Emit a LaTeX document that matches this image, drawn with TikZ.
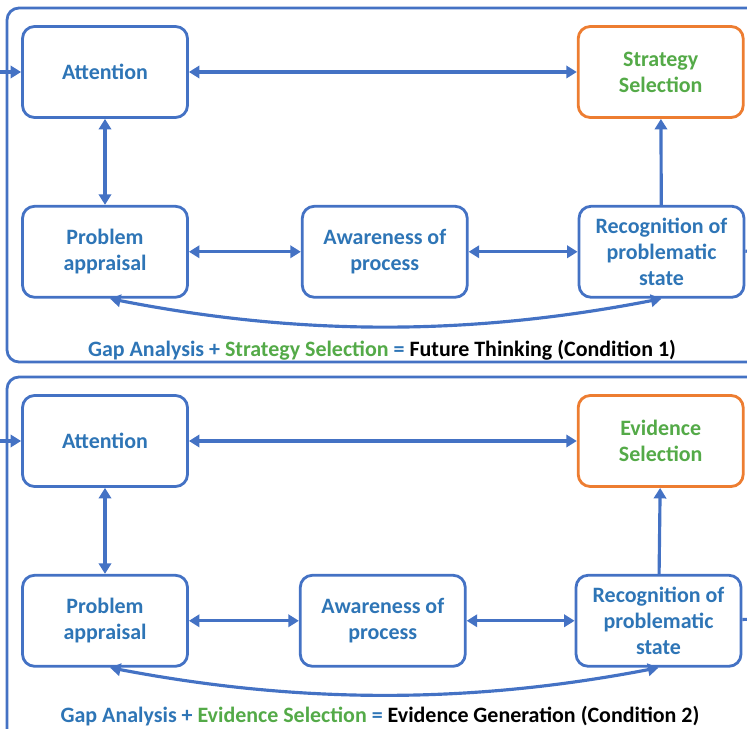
\documentclass[tikz,border=0pt]{standalone}
\usepackage{fontspec}
\setmainfont{Carlito}
\usetikzlibrary{positioning, arrows.meta}

\definecolor{lineblue}{RGB}{68,114,196}
\definecolor{textblue}{RGB}{46,117,182}
\definecolor{boxorange}{RGB}{237,125,49}
\definecolor{textgreen}{RGB}{84,170,72}

\begin{document}
\begin{tikzpicture}[
  x=0.02cm, y=-0.02cm,
  node distance=1.72cm,
  box/.style={rectangle, rounded corners=0.24cm, draw=lineblue, line width=1.6pt,
    minimum width=3.3cm, minimum height=1.82cm, align=center,
    text=textblue, font=\fontsize{12.5}{14.7}\selectfont\bfseries},
  goal/.style={box, draw=boxorange, text=textgreen},
  panel/.style={rounded corners=0.24cm, draw=lineblue, line width=1.6pt},
  arrow/.style={-{Triangle[length=6pt, width=7pt]}, draw=lineblue, line width=1.8pt},
  both/.style={arrow, {Triangle[length=6pt, width=7pt]}-{Triangle[length=6pt, width=7pt]}},
  caption/.style={font=\fontsize{12.5}{14}\selectfont\bfseries}
]
\clip (0,0) rectangle (747,729);

% condition 1
\draw[panel] (7,8) rectangle (770,362);
\node[box] (att1) at (105,72) {Attention};
\node[goal, right=7.76cm of att1] (sel1) {Strategy\\Selection};
\node[box, below=of att1] (prob1) {Problem\\appraisal};
\node[box, right=2.24cm of prob1] (aware1) {Awareness of\\process};
\node[box, right=2.18cm of aware1] (rec1) {Recognition of\\problematic\\state};
\coordinate (in1) at (-5,72);
\coordinate (out1) at (770,251);

\draw[arrow] (in1) -- (att1);
\draw[both] (att1) -- (sel1);
\draw[both] (att1) -- (prob1);
\draw[both] (prob1) -- (aware1);
\draw[both] (aware1) -- (rec1);
\draw[arrow] (rec1) -- (sel1);
\draw[lineblue, line width=1.8pt] (rec1) -- (out1);
\draw[both] ([xshift=0.1cm]prob1.south) .. controls (300,336) and (470,336) .. (rec1.south);

\node[caption] (cap1) at (382,350) {\textcolor{textblue}{Gap Analysis +} \textcolor{textgreen}{Strategy Selection} \textcolor{textblue}{=} Future Thinking (Condition 1)};

% condition 2
\draw[panel] (7,377) rectangle (770,745);
\node[box] (att2) at (105,441) {Attention};
\node[goal, right=7.76cm of att2] (sel2) {Evidence\\Selection};
\node[box, below=of att2] (prob2) {Problem\\appraisal};
\node[box, right=2.2cm of prob2] (aware2) {Awareness of\\process};
\node[box, right=2.16cm of aware2] (rec2) {Recognition of\\problematic\\state};
\coordinate (in2) at (-5,441);
\coordinate (out2) at (770,619);

\draw[arrow] (in2) -- (att2);
\draw[both] (att2) -- (sel2);
\draw[both] (att2) -- (prob2);
\draw[both] (prob2) -- (aware2);
\draw[both] (aware2) -- (rec2);
\draw[arrow] (rec2) -- (sel2);
\draw[lineblue, line width=1.8pt] (rec2) -- (out2);
\draw[both] ([xshift=0.1cm]prob2.south) .. controls (300,704) and (470,704) .. (rec2.south);

\node[caption] (cap2) at (380,716) {\textcolor{textblue}{Gap Analysis +} \textcolor{textgreen}{Evidence Selection} \textcolor{textblue}{=} Evidence Generation (Condition 2)};
\end{tikzpicture}
\end{document}
